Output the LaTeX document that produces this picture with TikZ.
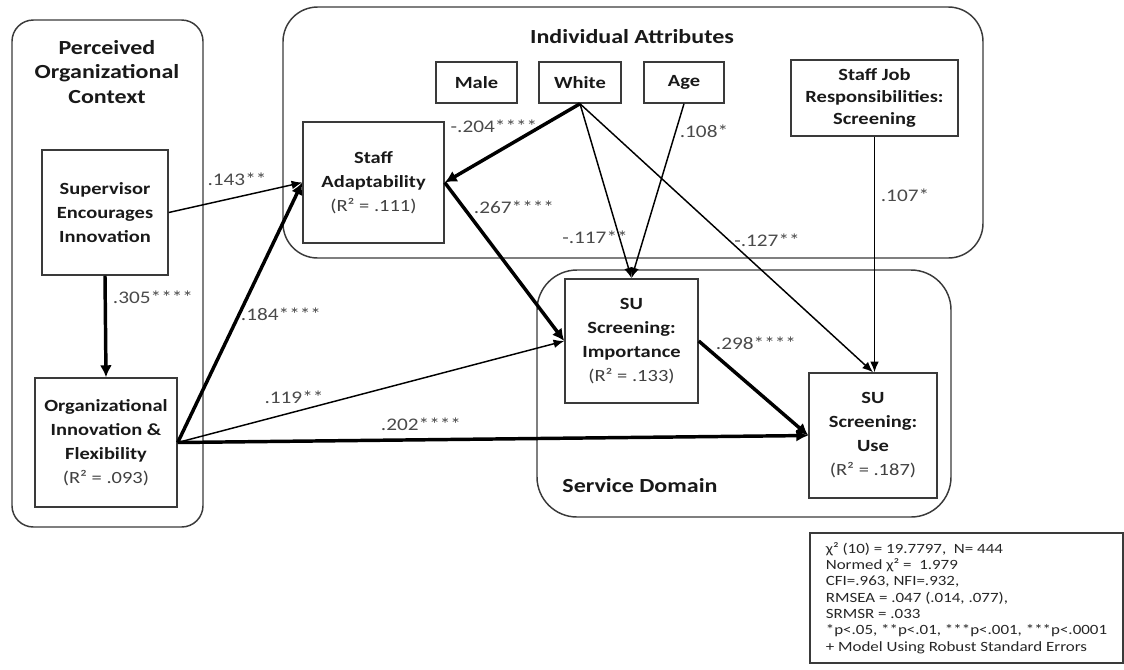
\documentclass[tikz,border=0pt]{standalone}
\usepackage{fontspec}
\setmainfont{Carlito}[FakeStretch=1.2]
\usetikzlibrary{arrows.meta}
\definecolor{edgegray}{HTML}{3A3A3A}
\definecolor{coefgray}{HTML}{4A4A4A}
\begin{document}
\begin{tikzpicture}[x=0.75pt,y=-0.75pt,
  sz/.style 2 args={minimum width=#1*0.75pt, minimum height=#2*0.75pt},
  varbox/.style={draw=edgegray, line width=1.1pt, inner sep=0pt, align=center,
    font=\fontsize{12.8}{18}\selectfont\bfseries, text=black!90},
  group/.style={draw=edgegray, line width=1.1pt, inner sep=0pt},
  coef/.style={font=\fontsize{13.3}{15}\selectfont, text=coefgray, inner sep=0pt},
  grouptitle/.style={font=\fontsize{15}{18.4}\selectfont\bfseries, align=center, inner sep=0pt, text=black!90},
  thinarr/.style={line width=1.1pt, -{Latex[length=8pt,width=6.5pt]}},
  thickarr/.style={line width=2.6pt, -{Latex[length=9pt,width=9pt]}}]
\useasboundingbox (0,0) rectangle (1124,669);

% group containers
\node[group, rounded corners=16pt, sz={191}{507}] (pctx) at (107.5,273.5) {};
\node[group, rounded corners=26pt, sz={700}{251}] (indiv) at (633,132.5) {};
\node[group, rounded corners=30pt, sz={414}{247}] (serv) at (744,393.5) {};

\node[grouptitle] (pctxT) at (107,72) {Perceived\\Organizational\\Context};
\node[grouptitle] (indivT) at (632,37) {Individual Attributes};
\node[grouptitle] (servT) at (640,486) {Service Domain};

% variables
\node[varbox, sz={126}{125}] (sup) at (105,212.5) {Supervisor\\Encourages\\Innovation};
\node[varbox, sz={142}{129}] (org) at (106,442.5) {Organizational\\Innovation \&\\Flexibility\\{\mdseries\color{black!75}(R² = .093)}};
\node[varbox, sz={141}{121}] (adapt) at (373.5,182.5) {Staff\\Adaptability\\{\mdseries\color{black!75}(R² = .111)}};
\node[varbox, sz={81}{41}] (male) at (476.5,82.5) {Male};
\node[varbox, sz={82}{41}] (white) at (580,82.5) {White};
\node[varbox, sz={80}{41}] (age) at (684,82.5) {Age};
\node[varbox, sz={167}{76}, font=\fontsize{12.8}{16.5}\selectfont\bfseries] (job) at (874.5,98) {Staff Job\\Responsibilities:\\Screening};
\node[varbox, sz={133}{124}] (imp) at (631.5,341) {SU\\Screening:\\Importance\\{\mdseries\color{black!75}(R² = .133)}};
\node[varbox, sz={128}{125}] (use) at (873,435.5) {SU\\Screening:\\Use\\{\mdseries\color{black!75}(R² = .187)}};

% paths
\draw[thinarr] (sup.east) -- (adapt.west);
\draw[thickarr] (sup.south) -- (org.north);
\draw[thickarr] (org.east) -- (adapt.west);
\draw[thinarr] (org.east) -- (imp.west);
\draw[thickarr] (org.east) -- (use.west);
\draw[thickarr] (white.south) -- (adapt.east);
\draw[thinarr] (white.south) -- (imp.north);
\draw[thinarr] (age.south) -- (imp.north);
\draw[thinarr] (white.south) -- (use.north);
\draw[thickarr] (adapt.east) -- (imp.west);
\draw[thinarr] (job.south) -- (job.south |- use.north);
\draw[thickarr] (imp.east) -- (use.west);

% coefficients
\node[coef] (c1) at (237,179) {.143**};
\node[coef] (c2) at (153,297) {.305****};
\node[coef] (c3) at (281,314) {.184****};
\node[coef] (c4) at (294,397) {.119**};
\node[coef] (c5) at (421,424) {.202****};
\node[coef] (c6) at (494,126) {-.204****};
\node[coef] (c7) at (704,131) {.108*};
\node[coef] (c8) at (514,207) {.267****};
\node[coef] (c9) at (595,237) {-.117**};
\node[coef] (c10) at (767,240) {-.127**};
\node[coef] (c11) at (905,195) {.107*};
\node[coef] (c12) at (756,343) {.298****};

% fit statistics
\node[draw=edgegray, line width=1.2pt, sz={313}{130}, inner sep=0pt, align=left,
  font=\fontsize{10.6}{12.2}\selectfont, text=black!85] (stats) at (966.5,598)
  {χ² (10) = 19.7797,\ \ N= 444\\
   Normed χ² =\ \ 1.979\\
   CFI=.963, NFI=.932,\\
   RMSEA = .047 (.014, .077),\\
   SRMSR = .033\\
   *p<.05, **p<.01, ***p<.001, ***p<.0001\\
   + Model Using Robust Standard Errors};
\end{tikzpicture}
\end{document}
